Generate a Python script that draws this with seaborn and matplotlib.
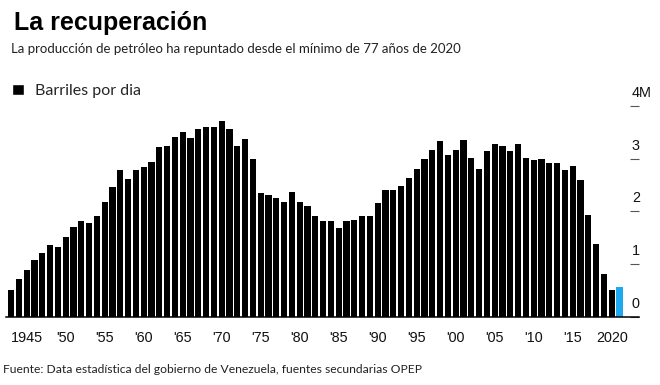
import matplotlib
matplotlib.use("Agg")
import numpy as np
import pandas as pd
import seaborn as sns
import matplotlib.pyplot as plt
import matplotlib.transforms as mtrans
from matplotlib.patches import Patch

# produccion de petroleo, millones de barriles por dia
years = list(range(1943, 2022))
barrels = [
    0.51, 0.71, 0.89, 1.07, 1.21, 1.36, 1.33, 1.51, 1.71, 1.81,   # 1943-1952
    1.77, 1.91, 2.17, 2.47, 2.79, 2.62, 2.79, 2.85, 2.93, 3.22,   # 1953-1962
    3.25, 3.42, 3.50, 3.40, 3.56, 3.61, 3.61, 3.71, 3.56, 3.24,   # 1963-1972
    3.37, 2.99, 2.34, 2.31, 2.25, 2.17, 2.37, 2.17, 2.10, 1.91,   # 1973-1982
    1.81, 1.81, 1.69, 1.81, 1.83, 1.91, 1.91, 2.15, 2.40, 2.40,   # 1983-1992
    2.48, 2.63, 2.81, 2.99, 3.17, 3.33, 3.07, 3.16, 3.35, 3.01,   # 1993-2002
    2.81, 3.15, 3.28, 3.25, 3.15, 3.28, 3.01, 2.97, 2.99, 2.91,   # 2003-2012
    2.91, 2.79, 2.87, 2.60, 1.93, 1.38, 0.81, 0.51, 0.56,         # 2013-2021
]
tick_years = [1945, 1950, 1955, 1960, 1965, 1970, 1975, 1980, 1985, 1990,
              1995, 2000, 2005, 2010, 2015, 2020]
tick_labels = ["1945", "'50", "'55", "'60", "'65", "'70", "'75", "'80", "'85",
               "'90", "'95", "'00", "'05", "'10", "'15", "2020"]
y_ticks = [0, 1, 2, 3, 4]
y_labels = ["0", "1", "2", "3", "4M"]

df = pd.DataFrame({"year": years, "barrels": barrels})
df["grupo"] = np.where(df["year"] == 2021, "ultimo", "historico")

sns.set_style("white")
plt.rcParams["font.family"] = ["Liberation Sans", "DejaVu Sans"]
light = ["Lato", "DejaVu Sans"]

W, H = 660, 385
fig = plt.figure(figsize=(6.6, 3.85), dpi=100)

def fx(px):
    return px / W

def fy(py):
    return 1 - py / H

# ejes: x de 1942.4 a 2023.5, y de 0 a 4
ax = fig.add_axes([fx(6.4), fy(316.7), (639 - 6.4) / W, (316.7 - 106) / H])

sns.barplot(data=df, x="year", y="barrels", hue="grupo", native_scale=True,
            palette={"historico": "#000000", "ultimo": "#1ea8f0"},
            width=0.8, dodge=False, legend=False, saturation=1,
            linewidth=0, ax=ax)

ax.set_xlim(1942.4, 2023.5)
ax.set_ylim(0, 4)
ax.set_xlabel("")
ax.set_ylabel("")
for s in ["top", "left", "right"]:
    ax.spines[s].set_visible(False)
ax.spines["bottom"].set_color("black")
ax.spines["bottom"].set_linewidth(1.1)

ax.set_xticks(tick_years)
ax.set_xticklabels(tick_labels, fontsize=10.4, color="#111111")
ax.tick_params(axis="x", direction="out", length=4, width=0.8, color="#444444", pad=6)

ax.yaxis.tick_right()
ax.set_yticks(y_ticks)
ax.set_yticklabels(y_labels, fontsize=10.4, color="#111111")
ax.tick_params(axis="y", direction="in", length=6.5, width=0.8, color="#555555", pad=0)
offset = mtrans.ScaledTranslation(-7 / 100, 14.5 / 100, fig.dpi_scale_trans)
for lab in ax.get_yticklabels():
    lab.set_transform(lab.get_transform() + offset)
    lab.set_horizontalalignment("left")

fig.text(fx(14), fy(30), "La recuperación", fontsize=18, fontweight="bold",
         va="baseline", ha="left", color="black")
fig.text(fx(11), fy(53), "La producción de petróleo ha repuntado desde el mínimo de 77 años de 2020",
         fontsize=9.5, family=light, va="baseline", ha="left", color="#222222")
fig.legend(handles=[Patch(facecolor="black")], labels=["Barriles por dia"],
           loc="upper left", bbox_to_anchor=(fx(12), fy(84)), frameon=False,
           borderpad=0, borderaxespad=0,
           handlelength=0.72, handleheight=0.72, handletextpad=0.7,
           prop={"family": light, "size": 11.5})
fig.text(fx(3), fy(373), "Fuente: Data estadística del gobierno de Venezuela, fuentes secundarias OPEP",
         fontsize=8.7, family=light, va="baseline", ha="left", color="#222222")

fig.savefig("out.png", dpi=100)
